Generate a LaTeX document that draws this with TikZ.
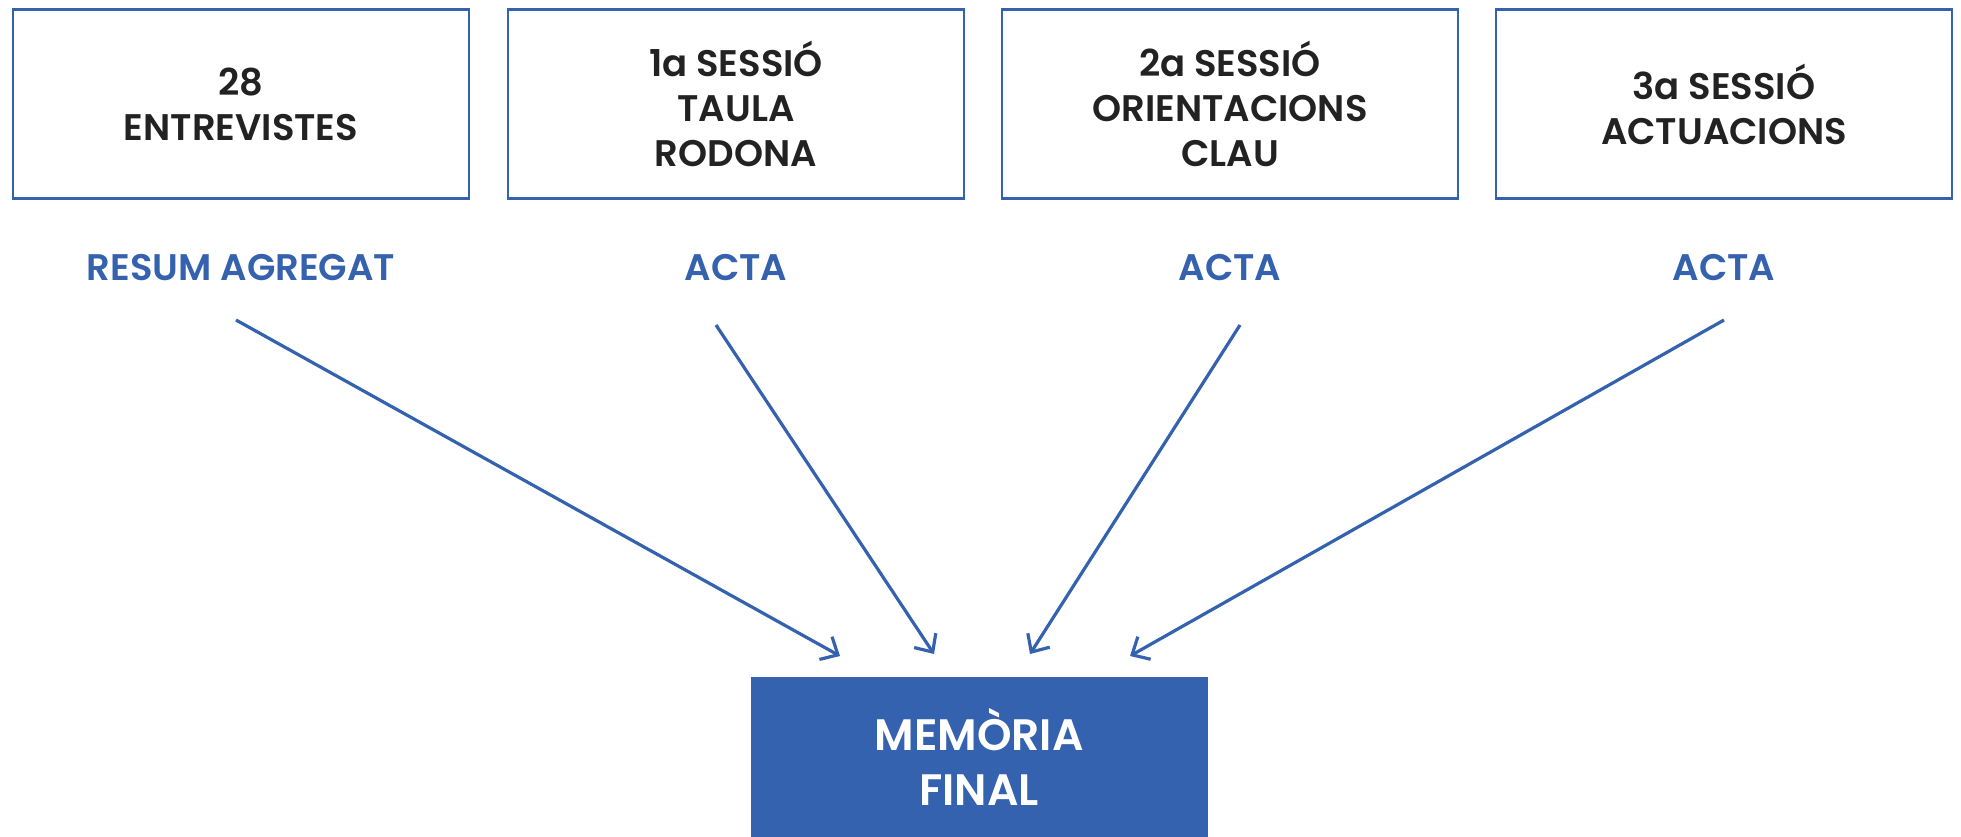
\documentclass[tikz,border=0pt]{standalone}
\usepackage{fontspec}
\setmainfont{Poppins}[BoldFont={Poppins SemiBold}]
\usetikzlibrary{arrows.meta}
\definecolor{azul}{HTML}{3562AE}
\definecolor{tinta}{HTML}{222222}
\begin{document}
\begin{tikzpicture}[x=1pt,y=-1pt,
  topbox/.style={draw=azul, line width=2.5pt, minimum width=456pt, minimum height=189pt, inner sep=0pt, align=center, text=tinta, font=\fontsize{37}{45}\selectfont\bfseries},
  outlabel/.style={text=azul, font=\fontsize{37}{45}\selectfont\bfseries, inner sep=0pt},
  finalbox/.style={fill=azul, minimum width=457pt, minimum height=160pt, inner sep=0pt, align=center, text=white, font=\fontsize{44}{55}\selectfont\bfseries},
  flow/.style={draw=azul, line width=3.2pt, -{Straight Barb[length=14pt,width=26pt]}}
]
\useasboundingbox (0,0) rectangle (1961,836);
\node[topbox] (b1) at (241,104) {28\\ENTREVISTES};
\node[topbox] (b2) at (736,104) {1a SESSIÓ\\TAULA\\RODONA};
\node[topbox] (b3) at (1230,104) {2a SESSIÓ\\ORIENTACIONS\\CLAU};
\node[topbox] (b4) at (1724,104) {3a SESSIÓ\\ACTUACIONS};
\node[outlabel] (l1) at (241,268) {RESUM AGREGAT};
\node[outlabel] (l2) at (736,268) {ACTA};
\node[outlabel] (l3) at (1230,268) {ACTA};
\node[outlabel] (l4) at (1724,268) {ACTA};
\node[finalbox] (m) at (979,757) {MEMÒRIA\\FINAL};
\coordinate (s1) at (236,320);
\coordinate (s2) at (716,325);
\coordinate (s3) at (1240,325);
\coordinate (s4) at (1724,320);
\coordinate (e1) at (840,656);
\coordinate (e2) at (934,654);
\coordinate (e3) at (1030,654);
\coordinate (e4) at (1130,656);
\draw[flow] (s1) -- (e1);
\draw[flow] (s2) -- (e2);
\draw[flow] (s3) -- (e3);
\draw[flow] (s4) -- (e4);
\end{tikzpicture}
\end{document}
